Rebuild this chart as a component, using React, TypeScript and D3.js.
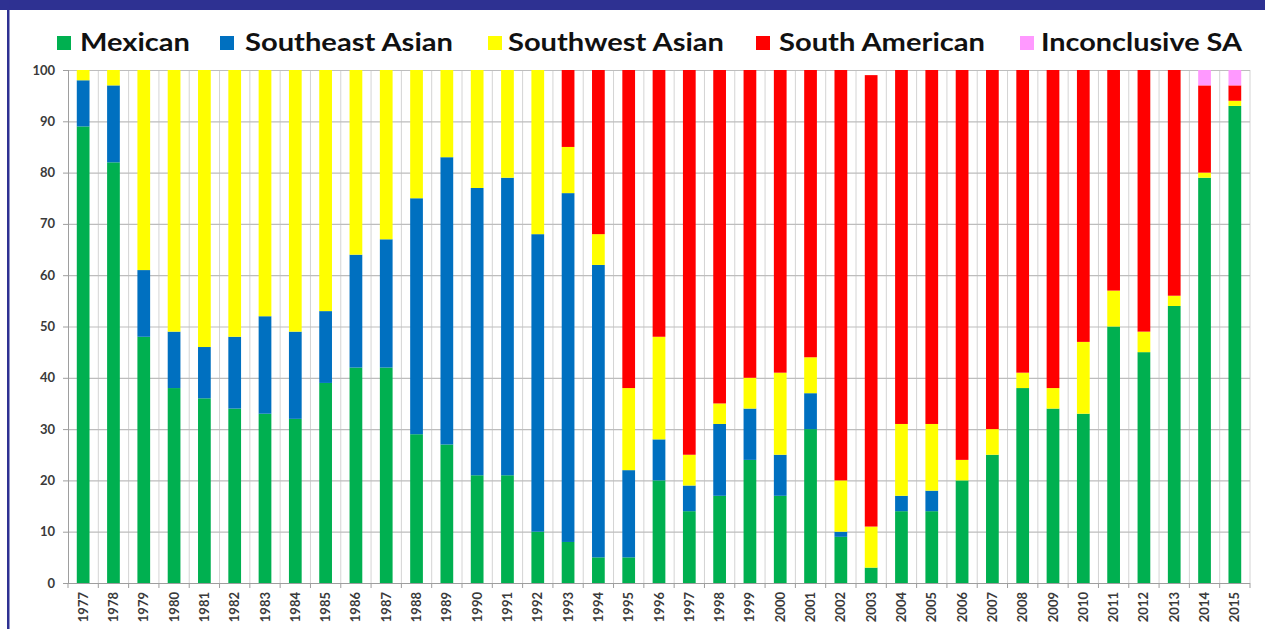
import React, { useEffect, useRef } from 'react'
import * as d3 from 'd3'

const years = [
  '1977', '1978', '1979', '1980', '1981', '1982', '1983', '1984', '1985', '1986',
  '1987', '1988', '1989', '1990', '1991', '1992', '1993', '1994', '1995', '1996',
  '1997', '1998', '1999', '2000', '2001', '2002', '2003', '2004', '2005', '2006',
  '2007', '2008', '2009', '2010', '2011', '2012', '2013', '2014', '2015',
]

const mexican = [
  89, 82, 48, 38, 36, 34, 33, 32, 39, 42,
  42, 29, 27, 21, 21, 10, 8, 5, 5, 20,
  14, 17, 24, 17, 30, 9, 3, 14, 14, 20,
  25, 38, 34, 33, 50, 45, 54, 79, 93,
]
const southeastAsian = [
  9, 15, 13, 11, 10, 14, 19, 17, 14, 22,
  25, 46, 56, 56, 58, 58, 68, 57, 17, 8,
  5, 14, 10, 8, 7, 1, 0, 3, 4, 0,
  0, 0, 0, 0, 0, 0, 0, 0, 0,
]
const southwestAsian = [
  2, 3, 39, 51, 54, 52, 48, 51, 47, 36,
  33, 25, 17, 23, 21, 32, 9, 6, 16, 20,
  6, 4, 6, 16, 7, 10, 8, 14, 13, 4,
  5, 3, 4, 14, 7, 4, 2, 1, 1,
]
const southAmerican = [
  0, 0, 0, 0, 0, 0, 0, 0, 0, 0,
  0, 0, 0, 0, 0, 0, 15, 32, 62, 52,
  75, 65, 60, 59, 56, 80, 88, 69, 69, 76,
  70, 59, 62, 53, 43, 51, 44, 17, 3,
]
const inconclusive = [
  0, 0, 0, 0, 0, 0, 0, 0, 0, 0,
  0, 0, 0, 0, 0, 0, 0, 0, 0, 0,
  0, 0, 0, 0, 0, 0, 0, 0, 0, 0,
  0, 0, 0, 0, 0, 0, 0, 3, 3,
]

const seriesNames = ['Mexican', 'Southeast Asian', 'Southwest Asian', 'South American', 'Inconclusive SA']
const seriesColors = ['#00b050', '#0070c0', '#ffff00', '#ff0000', '#ff99ff']
const yTicks = [0, 10, 20, 30, 40, 50, 60, 70, 80, 90, 100]

// legend layout (square x, text x, text width)
const legendPos = [
  [57, 80, 110],
  [220, 245, 208],
  [488, 508, 216],
  [756, 779, 206],
  [1020, 1041, 201],
]

const W = 1265
const H = 629

const App = () => {
  const svgRef = useRef(null)

  useEffect(() => {
    const svg = d3.select(svgRef.current)
    svg.selectAll('*').remove()

    const left = 68
    const right = 1250
    const top = 70
    const bottom = 583

    const rows = years.map((y, i) => ({
      year: y,
      'Mexican': mexican[i],
      'Southeast Asian': southeastAsian[i],
      'Southwest Asian': southwestAsian[i],
      'South American': southAmerican[i],
      'Inconclusive SA': inconclusive[i],
    }))

    const x = d3.scaleBand().domain(years).range([left, right]).paddingInner(0.58).paddingOuter(0.29)
    const y = d3.scaleLinear().domain([0, 100]).range([bottom, top])
    const step = x.step()

    // frame
    svg.append('rect').attr('x', 0).attr('y', 0).attr('width', W).attr('height', H).attr('fill', '#fff')
    svg.append('rect').attr('x', 0).attr('y', 0).attr('width', W).attr('height', 10).attr('fill', '#2e3192')
    svg.append('rect').attr('x', 7).attr('y', 0).attr('width', 2.5).attr('height', H).attr('fill', '#2e3192')

    // vertical gridlines at category boundaries
    const bounds = d3.range(years.length + 1).map((i) => left + i * step)
    svg.append('g')
      .selectAll('line')
      .data(bounds.slice(1))
      .enter()
      .append('line')
      .attr('x1', (d) => d)
      .attr('x2', (d) => d)
      .attr('y1', top)
      .attr('y2', bottom)
      .attr('stroke', '#d4d4d4')
      .attr('stroke-width', 1)

    // horizontal gridlines
    svg.append('g')
      .selectAll('line')
      .data(yTicks.slice(1))
      .enter()
      .append('line')
      .attr('x1', left)
      .attr('x2', right)
      .attr('y1', (d) => y(d) + 0.5)
      .attr('y2', (d) => y(d) + 0.5)
      .attr('stroke', '#bdbdbd')
      .attr('stroke-width', 1.2)

    // stacked bars
    const stack = d3.stack().keys(seriesNames)(rows as any)
    stack.forEach((layer, si) => {
      svg.append('g')
        .attr('fill', seriesColors[si])
        .selectAll('rect')
        .data(layer)
        .enter()
        .filter((d) => d[1] - d[0] > 0)
        .append('rect')
        .attr('x', (d) => x(d.data.year))
        .attr('width', x.bandwidth())
        .attr('y', (d) => y(d[1]))
        .attr('height', (d) => y(d[0]) - y(d[1]))
    })

    // y axis
    const yAxis = svg.append('g').attr('transform', `translate(${left},0)`)
    yAxis.append('line')
      .attr('x1', 0.5).attr('x2', 0.5).attr('y1', top).attr('y2', bottom)
      .attr('stroke', '#9e9e9e')
    yAxis.selectAll('.tick')
      .data(yTicks)
      .enter()
      .append('line')
      .attr('x1', -5).attr('x2', 0)
      .attr('y1', (d) => y(d) + 0.5).attr('y2', (d) => y(d) + 0.5)
      .attr('stroke', '#9e9e9e')
    yAxis.selectAll('text')
      .data(yTicks)
      .enter()
      .append('text')
      .attr('x', -13)
      .attr('y', (d) => y(d))
      .attr('dy', '0.35em')
      .attr('text-anchor', 'end')
      .attr('font-family', 'Lato, "Open Sans", sans-serif')
      .attr('font-weight', 'bold')
      .attr('font-size', 13)
      .attr('fill', '#3a3a3a')
      .text((d) => d)

    // x axis
    const xAxis = svg.append('g')
    xAxis.append('line')
      .attr('x1', left - 5).attr('x2', right).attr('y1', bottom + 0.5).attr('y2', bottom + 0.5)
      .attr('stroke', '#9e9e9e')
    xAxis.selectAll('.tick')
      .data(bounds)
      .enter()
      .append('line')
      .attr('x1', (d) => d).attr('x2', (d) => d)
      .attr('y1', bottom).attr('y2', bottom + 5)
      .attr('stroke', '#9e9e9e')
    xAxis.selectAll('text')
      .data(years)
      .enter()
      .append('text')
      .attr('transform', (d) => `translate(${x(d) + x.bandwidth() / 2},${bottom + 9}) rotate(-90)`)
      .attr('dy', '0.35em')
      .attr('text-anchor', 'end')
      .attr('font-family', 'Lato, "Open Sans", sans-serif')
      .attr('font-weight', 'bold')
      .attr('font-size', 13)
      .attr('fill', '#3a3a3a')
      .text((d) => d)

    // legend
    const legend = svg.append('g')
    seriesNames.forEach((name, i) => {
      const [sx, tx, tw] = legendPos[i]
      legend.append('rect')
        .attr('x', sx).attr('y', 36).attr('width', 14).attr('height', 14)
        .attr('fill', seriesColors[i])
      legend.append('text')
        .attr('x', tx).attr('y', 51)
        .attr('font-family', 'Lato, "Open Sans", sans-serif')
        .attr('font-weight', 'bold')
        .attr('font-size', 25)
        .attr('fill', '#111')
        .attr('textLength', tw)
        .attr('lengthAdjust', 'spacingAndGlyphs')
        .text(name)
    })
  }, [])

  return (
    <svg
      ref={svgRef}
      width={W}
      height={H}
      style={{ position: 'absolute', left: 0, top: 0, display: 'block' }}
    ></svg>
  )
}

export default App
